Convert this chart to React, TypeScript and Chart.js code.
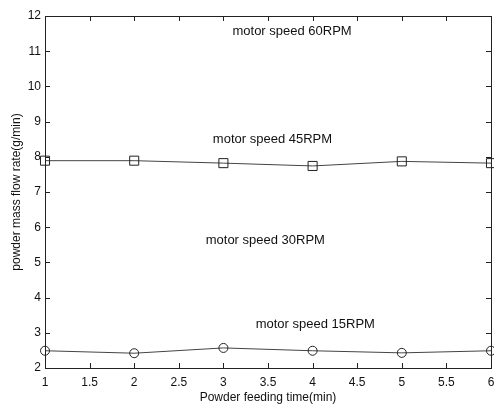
import React, { useEffect, useRef } from "react";
import { Chart, registerables } from "chart.js";

Chart.register(...registerables);

const feedingTime = [1, 2, 3, 4, 5, 6];
const rpm45Flow = [7.89, 7.89, 7.82, 7.74, 7.87, 7.82];
const rpm15Flow = [2.49, 2.42, 2.57, 2.49, 2.43, 2.49];
const annotationText = ["motor speed 60RPM", "motor speed 45RPM", "motor speed 30RPM", "motor speed 15RPM"];
const annotationX = [3.77, 3.55, 3.47, 4.03];
const annotationY = [11.55, 8.48, 5.62, 3.25];
const xTitle = "Powder feeding time(min)";
const yTitle = "powder mass flow rate(g/min)";

const FONT = "'Liberation Sans', Arial, sans-serif";
const RIGHT_GAP = 3;

const boxPlugin = {
  id: "boxPlugin",
  afterLayout(chart: any) {
    const xs = chart.scales.x;
    const newRight = chart.width - RIGHT_GAP;
    chart.chartArea.right = newRight;
    chart.chartArea.width = newRight - chart.chartArea.left;
    xs.right = newRight;
    xs.width = newRight - xs.left;
    xs.configure();
  },
  afterDatasetsDraw(chart: any) {
    const { ctx, chartArea, scales } = chart;
    const { left, right, top, bottom } = chartArea;
    const xs = scales.x;
    const ys = scales.y;
    ctx.save();
    ctx.strokeStyle = "#222";
    ctx.lineWidth = 1;
    ctx.strokeRect(Math.round(left) + 0.5, Math.round(top) + 0.5, Math.round(right - left), Math.round(bottom - top));
    const tl = 5;
    ctx.beginPath();
    xs.ticks.forEach((t: any) => {
      const px = Math.round(xs.getPixelForValue(t.value)) + 0.5;
      ctx.moveTo(px, bottom);
      ctx.lineTo(px, bottom - tl);
      ctx.moveTo(px, top);
      ctx.lineTo(px, top + tl);
    });
    ys.ticks.forEach((t: any) => {
      const py = Math.round(ys.getPixelForValue(t.value)) + 0.5;
      ctx.moveTo(left, py);
      ctx.lineTo(left + tl, py);
      ctx.moveTo(right, py);
      ctx.lineTo(right - tl, py);
    });
    ctx.stroke();
    ctx.fillStyle = "#111";
    ctx.font = "13px " + FONT;
    ctx.textAlign = "center";
    ctx.textBaseline = "middle";
    annotationText.forEach((txt, i) => {
      ctx.fillText(txt, xs.getPixelForValue(annotationX[i]), ys.getPixelForValue(annotationY[i]));
    });
    ctx.restore();
  },
};

export default function App() {
  const ref = useRef<HTMLCanvasElement | null>(null);
  useEffect(() => {
    if (!ref.current) return;
    const chart = new Chart(ref.current, {
      type: "line",
      data: {
        datasets: [
          {
            label: "45RPM",
            data: feedingTime.map((x, i) => ({ x, y: rpm45Flow[i] })),
            borderColor: "#444",
            borderWidth: 1,
            pointStyle: "rect",
            pointRadius: 6.4,
            pointBorderColor: "#222",
            pointBorderWidth: 1,
            pointBackgroundColor: "rgba(0,0,0,0)",
            tension: 0,
          },
          {
            label: "15RPM",
            data: feedingTime.map((x, i) => ({ x, y: rpm15Flow[i] })),
            borderColor: "#444",
            borderWidth: 1,
            pointStyle: "circle",
            pointRadius: 4.5,
            pointBorderColor: "#222",
            pointBorderWidth: 1,
            pointBackgroundColor: "rgba(0,0,0,0)",
            tension: 0,
          },
        ],
      },
      options: {
        responsive: false,
        animation: false,
        clip: false as any,
        layout: { padding: { left: 0, right: 0, top: 16, bottom: 0 } },
        plugins: { legend: { display: false }, tooltip: { enabled: false } },
        scales: {
          x: {
            type: "linear",
            min: 1,
            max: 6,
            grid: { display: true, drawOnChartArea: false, drawTicks: true, tickLength: 7, color: "rgba(0,0,0,0)" },
            border: { display: false },
            ticks: {
              stepSize: 0.5,
              padding: 0,
              color: "#111",
              font: { family: FONT, size: 12 },
              maxRotation: 0,
              autoSkip: false,
              callback: (v: any) => String(v),
            },
            title: {
              display: true,
              text: xTitle,
              color: "#111",
              font: { family: FONT, size: 12 },
              padding: { top: 0, bottom: 0 },
            },
            afterFit: (s: any) => {
              s.height = 37;
            },
          },
          y: {
            type: "linear",
            min: 2,
            max: 12,
            grid: { display: false, drawTicks: false },
            border: { display: false },
            ticks: {
              stepSize: 1,
              padding: 4,
              color: "#111",
              font: { family: FONT, size: 12 },
              autoSkip: false,
            },
            title: {
              display: true,
              text: yTitle,
              color: "#111",
              font: { family: FONT, size: 12 },
              padding: { top: 9, bottom: 0 },
            },
            afterFit: (s: any) => {
              s.width = 45;
            },
          },
        },
      },
      plugins: [boxPlugin],
    });
    return () => chart.destroy();
  }, []);
  return (
    <div style={{ position: "absolute", left: 0, top: 0, width: 494, height: 405, background: "#fff" }}>
      <canvas ref={ref} width={494} height={405} />
    </div>
  );
}
